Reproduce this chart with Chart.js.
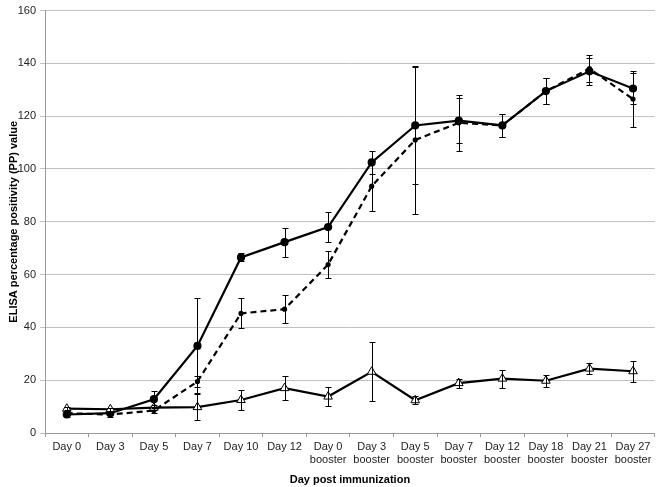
<!DOCTYPE html>
<html><head><meta charset="utf-8">
<script src="https://cdn.jsdelivr.net/npm/chart.js@4.4.1/dist/chart.umd.min.js"></script>
<style>html,body{margin:0;padding:0;background:#fff}#wrap{width:661px;height:487px}</style>
</head><body><div id="wrap"><canvas id="c" width="661" height="487"></canvas></div>
<script>
const categories = [["Day 0"],["Day 3"],["Day 5"],["Day 7"],["Day 10"],["Day 12"],["Day 0","booster"],["Day 3","booster"],["Day 5","booster"],["Day 7","booster"],["Day 12","booster"],["Day 18","booster"],["Day 21","booster"],["Day 27","booster"]];
const seriesSolid = [7, 7.5, 12.8, 33, 66.5, 72.3, 78, 102.5, 116.5, 118.3, 116.5, 129.5, 137, 130.5];
const errSolid    = [0.8, 0.8, 3, 18, 1.5, 5.5, 5.6, 4.3, 22, 8.5, 4.3, 5, 5, 6];
const seriesDashed = [7.5, 7, 8.5, 19.5, 45.3, 46.9, 63.8, 93.5, 111, 117.5, 116.5, 129.5, 138, 126.5];
const errDashed    = [0.8, 0.8, 1, 2, 5.7, 5.3, 5, 9.5, 28, 10.5, 4.3, 5, 5, 10.5];
const seriesTriangle = [9.2, 9, 9.6, 9.8, 12.5, 17, 13.8, 23.2, 12.4, 18.9, 20.6, 19.8, 24.4, 23.4];
const errTriangle    = [0.6, 0.6, 1, 5, 3.6, 4.5, 3.6, 11.2, 1.5, 1.7, 3.4, 2.2, 2.2, 4];
const yTicks = [0,20,40,60,80,100,120,140,160];

const errorBars = {
  id:'errorBars',
  afterDatasetsDraw(chart){
    const ctx = chart.ctx, x = chart.scales.x, y = chart.scales.y;
    ctx.save();
    ctx.strokeStyle = '#000'; ctx.lineWidth = 1;
    chart.data.datasets.forEach(ds=>{
      ds.data.forEach((v,i)=>{
        const e = ds.errors[i];
        const px = Math.round(x.getPixelForValue(i)) + 0.5;
        const top = Math.round(y.getPixelForValue(v+e)) + 0.5, bot = Math.round(y.getPixelForValue(v-e)) + 0.5;
        ctx.beginPath();
        ctx.moveTo(px, top); ctx.lineTo(px, bot);
        ctx.moveTo(px-3, top); ctx.lineTo(px+3, top);
        ctx.moveTo(px-3, bot); ctx.lineTo(px+3, bot);
        ctx.stroke();
      });
    });
    ctx.restore();
  }
};

new Chart(document.getElementById('c'), {
  type:'line',
  data:{
    labels: categories,
    datasets:[
      {data: seriesTriangle, errors: errTriangle, borderColor:'#000', borderWidth:2.2, pointStyle:'triangle', pointRadius:5, pointBackgroundColor:'#fff', pointBorderColor:'#000', pointBorderWidth:1, tension:0},
      {data: seriesDashed, errors: errDashed, borderColor:'#000', borderWidth:2.2, borderDash:[6,4], pointStyle:'circle', pointRadius:1.5, pointBackgroundColor:'#000', pointBorderColor:'#000', tension:0},
      {data: seriesSolid, errors: errSolid, borderColor:'#000', borderWidth:2.2, pointStyle:'circle', pointRadius:3, pointBackgroundColor:'#000', pointBorderColor:'#000', tension:0}
    ]
  },
  options:{
    responsive:false, animation:false, devicePixelRatio:1,
    layout:{padding:{top:6,right:4,left:0,bottom:0}},
    plugins:{legend:{display:false}, tooltip:{enabled:false}},
    scales:{
      x:{
        offset:true,
        grid:{offset:true, drawOnChartArea:false, drawTicks:true, tickLength:4, color:'#999'},
        border:{color:'#999', width:1},
        ticks:{color:'#222', font:{family:'Liberation Sans', size:11}, maxRotation:0, autoSkip:false, padding:3},
        title:{display:true, text:'Day post immunization', color:'#000', font:{family:'Liberation Sans', size:11, weight:'bold'}, padding:{top:6,bottom:0}},
        afterFit(s){ s.height = 54; }
      },
      y:{
        min:0, max:160,
        afterBuildTicks(s){ s.ticks = yTicks.map(v=>({value:v})); },
        grid:{color:'#c0c0c0', lineWidth:1, drawTicks:true, tickLength:5},
        border:{color:'#999', width:1},
        ticks:{color:'#222', font:{family:'Liberation Sans', size:11}, padding:4},
        title:{display:true, text:'ELISA percentage positivity (PP) value', color:'#000', font:{family:'Liberation Sans', size:11, weight:'bold'}, padding:{top:7,bottom:4}},
        afterFit(s){ s.width = 45; }
      }
    }
  },
  plugins:[errorBars]
});
</script></body></html>
